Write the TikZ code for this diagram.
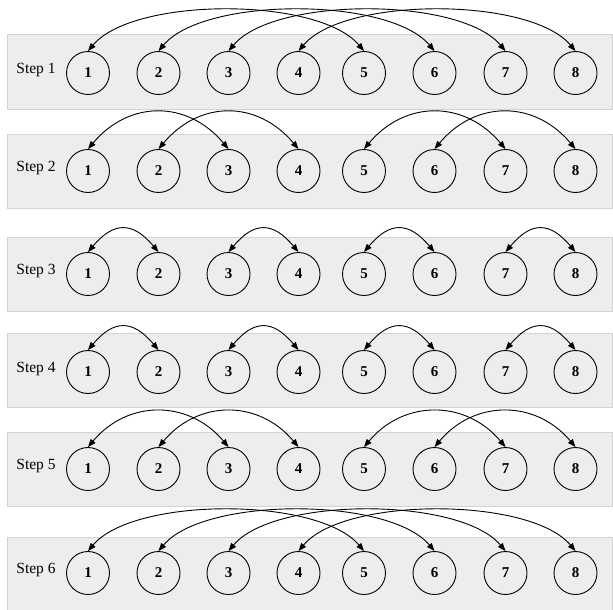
\documentclass[tikz,border=0pt]{standalone}
\usepackage{fontspec}
\setmainfont{Liberation Serif}
\usetikzlibrary{arrows.meta}
\definecolor{panelgray}{HTML}{EDEDED}
\definecolor{panelborder}{HTML}{D3D3D3}
\begin{document}
\begin{tikzpicture}[x=1pt,y=-1pt,
  panel/.style={fill=panelgray, draw=panelborder, line width=1pt},
  num/.style={circle, draw, line width=0.9pt, minimum size=43pt, inner sep=0pt, font=\fontsize{15}{18}\selectfont\bfseries},
  steplabel/.style={font=\fontsize{15.5}{18}\selectfont, inner sep=0pt},
  link/.style={{Triangle[length=8pt,width=6pt]}-{Triangle[length=8pt,width=6pt]}, line width=0.9pt}]
\useasboundingbox (0,0) rectangle (613,610);
\foreach \r/\ptop/\yc/\dist/\pairs in {
  1/35/73/71/{1/5,2/6,3/7,4/8},
  2/134/171/64/{1/3,2/4,5/7,6/8},
  3/237/274/40/{1/2,3/4,5/6,7/8},
  4/333/372/40/{1/2,3/4,5/6,7/8},
  5/432/469/62/{1/3,2/4,5/7,6/8},
  6/537/573/71/{1/5,2/6,3/7,4/8}}{
  \draw[panel] (7,\ptop) rectangle (612,\ptop+74);
  \node[steplabel] (lab\r) at (36,\yc-3) {Step \r};
  \foreach \k/\x in {1/88,2/158.5,3/228.5,4/298.5,5/364,6/434.5,7/505.5,8/575.5}{
    \node[num] (r\r n\k) at (\x,\yc) {\k};
  }
  \foreach \a/\b in \pairs {
    \draw[link] (r\r n\a.north) to[out=50,in=130,distance=\dist pt] (r\r n\b.north);
  }
}
\end{tikzpicture}
\end{document}
